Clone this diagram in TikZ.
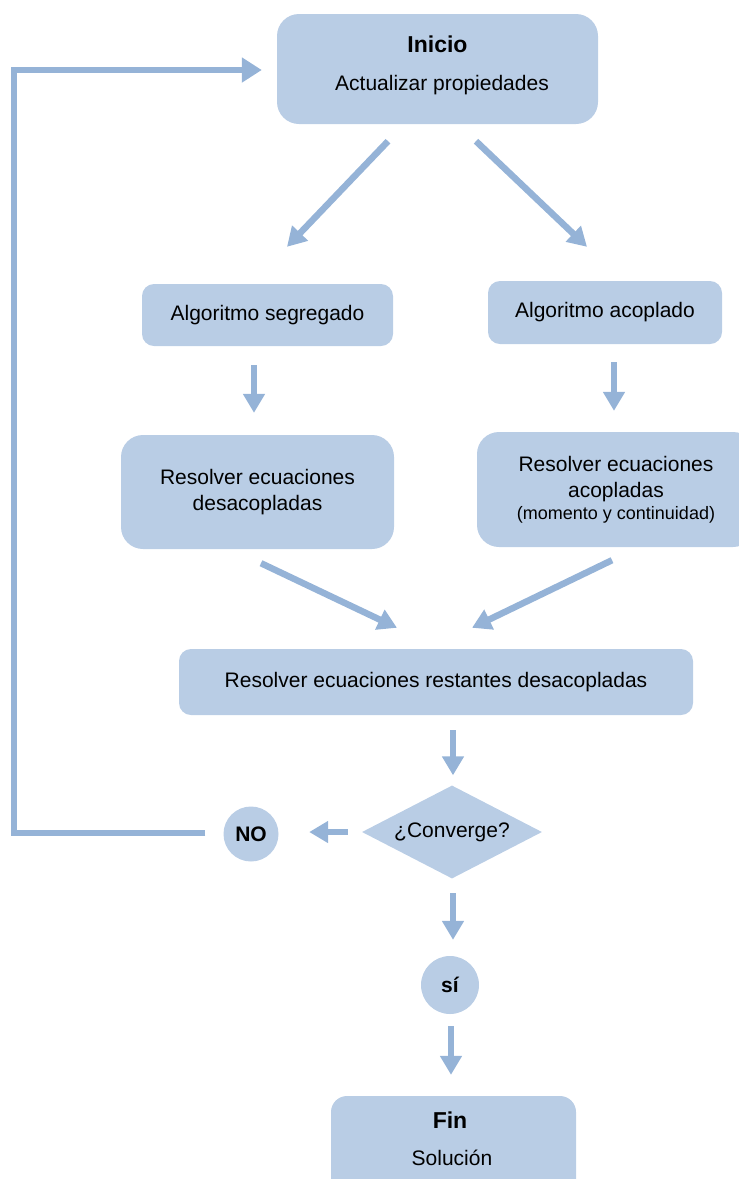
\documentclass[tikz,border=0pt]{standalone}
\usepackage{fontspec}
\setmainfont{Liberation Sans}
\usetikzlibrary{shapes.geometric,arrows.meta,calc}
\definecolor{boxfill}{HTML}{B9CDE5}
\definecolor{arrowc}{HTML}{95B3D7}
\tikzset{
  box/.style={fill=boxfill, draw=none, rounded corners=#1, inner sep=0pt},
  box/.default=12pt,
  flow/.style={draw=arrowc, line width=6.5pt, -{Triangle[width=21pt,length=19pt]}},
  loopline/.style={draw=arrowc, line width=6pt, -{Triangle[width=24pt,length=20pt]}},
  txt/.style={font=\fontsize{21}{26}\selectfont, align=center, inner sep=0pt},
  btxt/.style={font=\fontsize{23}{27}\selectfont\bfseries, inner sep=0pt},
  disc/.style={circle, fill=boxfill, draw=none, inner sep=0pt, minimum size=#1, font=\fontsize{21}{25}\selectfont\bfseries},
  decision/.style={diamond, shape aspect=1.94, fill=boxfill, draw=none, inner sep=0pt, minimum width=180pt, minimum height=93pt, font=\fontsize{21}{25}\selectfont}
}
\begin{document}
\begin{tikzpicture}[x=1pt, y=-1pt]
\useasboundingbox (0,0) rectangle (739,1179);
\clip (0,0) rectangle (739,1179);

% boxes
\node[box=22pt, minimum width=321pt, minimum height=110pt] (inicio) at (437.5,69) {};
\node[btxt] (inicioT) at (437.5,44) {Inicio};
\node[txt] (inicioS) at (442,85) {Actualizar propiedades};

\node[box=12pt, minimum width=251pt, minimum height=62pt, txt] (seg) at (267.5,315) {Algoritmo segregado};
\node[box=12pt, minimum width=234pt, minimum height=63pt, txt] (acop) at (605,312.5) {Algoritmo acoplado};

\node[box=22pt, minimum width=273pt, minimum height=114pt, txt] (resdes) at (257.5,492) {Resolver ecuaciones\\desacopladas};
\node[box=22pt, minimum width=278pt, minimum height=115pt, txt] (resacop) at (616,489.5) {Resolver ecuaciones\\acopladas\\[-4pt]{\fontsize{18}{22}\selectfont(momento y continuidad)}};

\node[box=12pt, minimum width=514pt, minimum height=66pt, txt] (rest) at (436,682) {Resolver ecuaciones restantes desacopladas};

\node[decision] (conv) at (452,832) {¿Converge?};
\node[disc=55pt] (no) at (251,834) {NO};
\node[disc=58pt] (si) at (450,985) {sí};

\node[box=16pt, minimum width=245pt, minimum height=114pt] (fin) at (453.5,1153) {};
\node[btxt] (finT) at (450,1120) {Fin};
\node[txt] (finS) at (452,1158) {Solución};

% connectors
\draw[flow] ($(inicio.south)+(-49.5,17)$) -- ($(seg.north)+(19.5,-37)$);
\draw[flow] ($(inicio.south)+(38.5,17)$) -- ($(acop.north)+(-18,-34)$);
\draw[flow] ($(seg.south)+(-13.5,19)$) -- ($(resdes.north)+(-3.5,-22)$);
\draw[flow] ($(acop.south)+(9,18)$) -- ($(resacop.north)+(-2,-21)$);
\draw[flow] ($(resdes.south)+(3.5,14)$) -- ($(rest.north)+(-39,-21)$);
\draw[flow] ($(resacop.south)+(-4,13)$) -- ($(rest.north)+(36,-21)$);
\draw[flow] ($(rest.south)+(17,15)$) -- ($(conv.north)+(1,-10)$);
\draw[flow] ($(conv.west)+(-14,0)$) -- ($(no.east)+(30.5,-2)$);
\draw[flow] ($(conv.south)+(1,14.5)$) -- ($(si.north)+(3,-16)$);
\draw[flow] ($(si.south)+(1,12)$) -- ($(fin.north)+(-2.5,-21)$);

\coordinate (lc) at (14,833);
\draw[loopline, line join=miter] ($(no.west)+(-18,-1)$) -- (lc) |- ($(inicio.west)+(-15,1)$);
\end{tikzpicture}
\end{document}
